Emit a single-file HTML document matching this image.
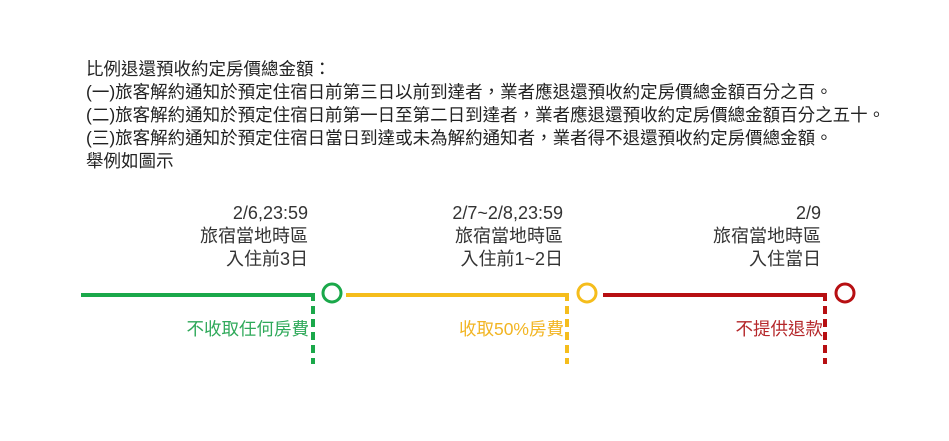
<!DOCTYPE html>
<html><head><meta charset="utf-8"><style>
html,body{margin:0;padding:0;background:#fff;}
body{width:949px;height:441px;position:relative;overflow:hidden;font-family:"Liberation Sans","Noto Sans CJK TC",sans-serif;color:#222;}
.t{position:absolute;left:86px;font-size:17.5px;line-height:23px;white-space:nowrap;}
.lab{position:absolute;text-align:right;font-size:18px;line-height:23px;white-space:nowrap;color:#333;}
.b{position:absolute;font-size:17.5px;white-space:nowrap;text-align:right;line-height:20px;}
</style></head><body>
<div class="t" style="top:58px">比例退還預收約定房價總金額：</div>
<div class="t" style="top:81px">(一)旅客解約通知於預定住宿日前第三日以前到達者，業者應退還預收約定房價總金額百分之百。</div>
<div class="t" style="top:104px">(二)旅客解約通知於預定住宿日前第一日至第二日到達者，業者應退還預收約定房價總金額百分之五十。</div>
<div class="t" style="top:127px">(三)旅客解約通知於預定住宿日當日到達或未為解約通知者，業者得不退還預收約定房價總金額。</div>
<div class="t" style="top:150px">舉例如圖示</div>

<div class="lab" style="right:641px;top:202px">2/6,23:59<br>旅宿當地時區<br>入住前3日</div>
<div class="lab" style="right:386px;top:202px">2/7~2/8,23:59<br>旅宿當地時區<br>入住前1~2日</div>
<div class="lab" style="right:128px;top:202px">2/9<br>旅宿當地時區<br>入住當日</div>

<svg width="949" height="441" style="position:absolute;left:0;top:0">
<line x1="81" y1="295" x2="315" y2="295" stroke="#1aa84a" stroke-width="4"/>
<line x1="313" y1="293" x2="313" y2="364" stroke="#1aa84a" stroke-width="4" stroke-dasharray="8,5"/>
<circle cx="332" cy="293" r="9" fill="none" stroke="#1aa84a" stroke-width="3"/>
<line x1="346" y1="295" x2="569" y2="295" stroke="#f5bd1c" stroke-width="4"/>
<line x1="567" y1="293" x2="567" y2="364" stroke="#f5bd1c" stroke-width="4" stroke-dasharray="8,5"/>
<circle cx="587" cy="293" r="9" fill="none" stroke="#f5bd1c" stroke-width="3"/>
<line x1="603" y1="295" x2="827" y2="295" stroke="#b70f12" stroke-width="4"/>
<line x1="825" y1="293" x2="825" y2="364" stroke="#b70f12" stroke-width="4" stroke-dasharray="8,5"/>
<circle cx="845" cy="293" r="9" fill="none" stroke="#b70f12" stroke-width="3"/>
</svg>
<div class="b" style="right:640px;top:319px;color:#2fa95a">不收取任何房費</div>
<div class="b" style="right:385px;top:319px;color:#f2b523">收取50%房費</div>
<div class="b" style="right:126px;top:319px;color:#b5272a">不提供退款</div>
</body></html>
